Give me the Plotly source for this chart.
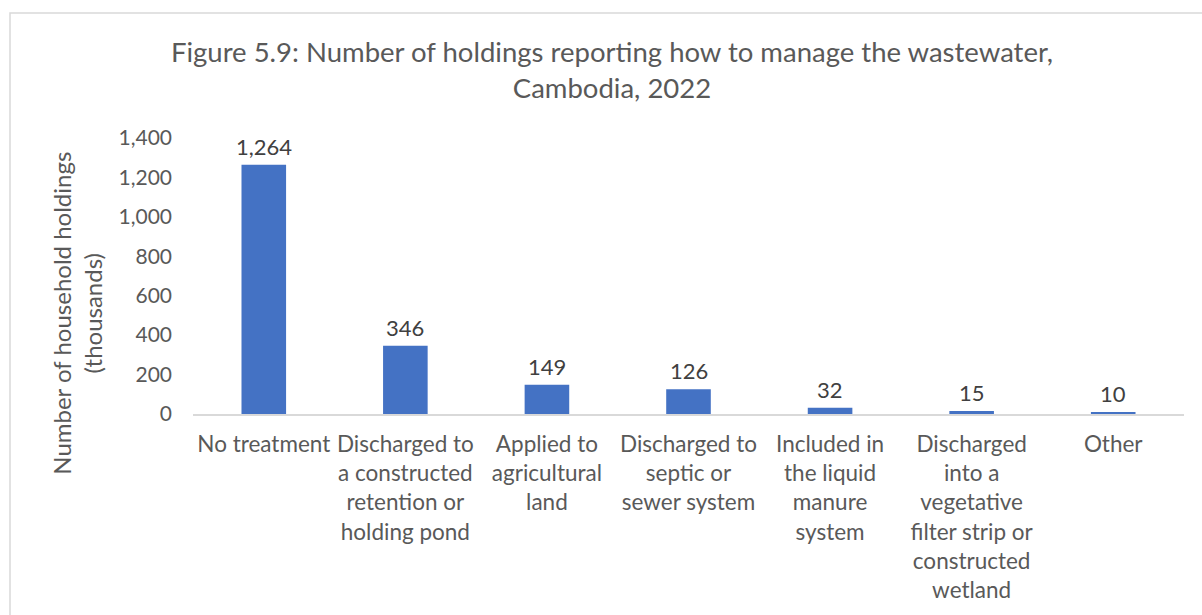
import plotly.graph_objects as go

# Wastewater management methods and number of holdings (thousands)
categories = [
    "No treatment",
    "Discharged to<br>a constructed<br>retention or<br>holding pond",
    "Applied to<br>agricultural<br>land",
    "Discharged to<br>septic or<br>sewer system",
    "Included in<br>the liquid<br>manure<br>system",
    "Discharged<br>into a<br>vegetative<br>filter strip or<br>constructed<br>wetland",
    "Other",
]
holdings = [1264, 346, 149, 126, 32, 15, 10]
y_ticks = [0, 200, 400, 600, 800, 1000, 1200, 1400]

W, H = 1202, 615
ML, MR, MT, MB = 193, 18, 138, 199
plot_w = W - ML - MR
plot_h = H - MT - MB

def px_x(px):
    return (px - ML) / plot_w

def px_y(py):
    return (H - MB - py) / plot_h

FONT = "Lato"
GREY = "#595959"

fig = go.Figure(
    go.Bar(
        x=categories,
        y=holdings,
        marker=dict(color="#4472C4", line=dict(width=0)),
        width=0.315,
        hoverinfo="skip",
    )
)

# value labels above each bar
for c, v in zip(categories, holdings):
    fig.add_annotation(
        x=c, y=v, text=f"{v:,}", showarrow=False,
        yanchor="bottom", yshift=3,
        font=dict(family=FONT, size=22, color="#404040"),
    )

# y-axis title
fig.add_annotation(
    xref="paper", yref="paper",
    x=px_x(77), y=px_y(315),
    text="Number of household holdings<br>(thousands)",
    textangle=-90, showarrow=False,
    xanchor="center", yanchor="middle",
    font=dict(family=FONT, size=24, color=GREY),
)

# chart frame
fig.add_shape(
    type="rect", xref="paper", yref="paper",
    x0=px_x(10), x1=px_x(1215), y0=px_y(12), y1=px_y(630),
    line=dict(color="#D9D9D9", width=1.5), fillcolor="rgba(0,0,0,0)",
    layer="below",
)

fig.update_layout(
    width=W, height=H,
    margin=dict(l=ML, r=MR, t=MT, b=MB),
    paper_bgcolor="white", plot_bgcolor="white",
    showlegend=False,
    font=dict(family=FONT, color=GREY),
    title=dict(
        text="Figure 5.9: Number of holdings reporting how to manage the wastewater,<br>Cambodia, 2022",
        x=612 / W, xanchor="center",
        y=1 - 62 / H, yanchor="middle",
        font=dict(family=FONT, size=27.5, color=GREY),
    ),
    xaxis=dict(
        showline=True, linecolor="#D9D9D9", linewidth=1.5,
        showgrid=False, zeroline=False,
        ticks="", tickfont=dict(family=FONT, size=22.5, color=GREY),
        ticklabelstandoff=9,
        tickangle=0,
    ),
    yaxis=dict(
        range=[0, 1400], tickvals=y_ticks, tickformat=",",
        showgrid=False, zeroline=False, showline=False,
        ticks="", tickfont=dict(family=FONT, size=21, color=GREY),
        ticklabelstandoff=20,
    ),
)

fig.write_html("out.html")
